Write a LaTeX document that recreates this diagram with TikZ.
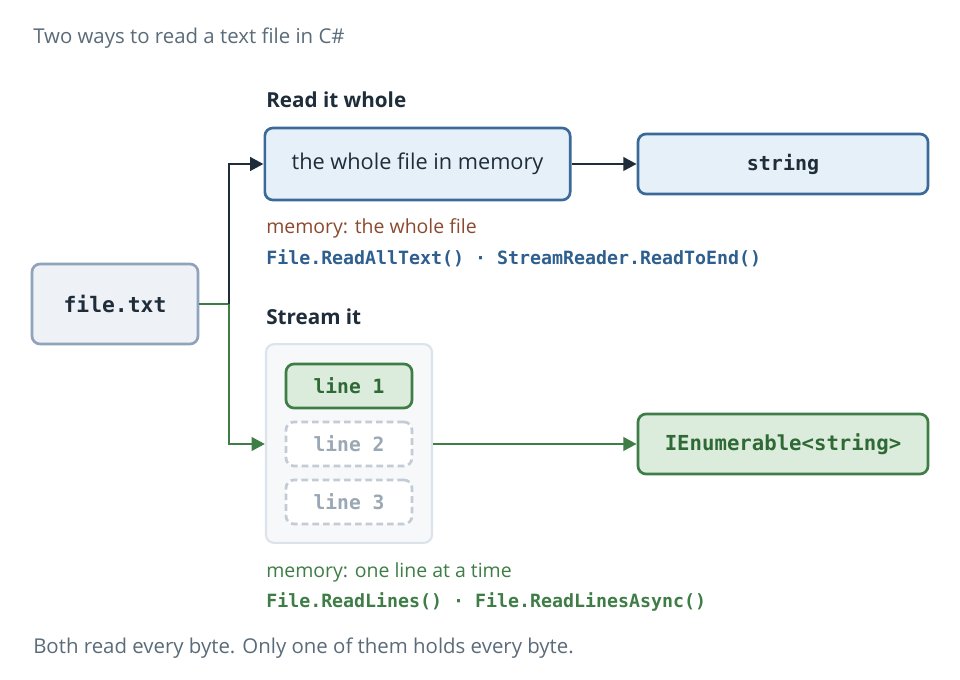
\documentclass[tikz,border=0pt]{standalone}
\usepackage{fontspec}
\setmainfont{Open Sans}
\setmonofont{DejaVu Sans Mono}
\usetikzlibrary{arrows.meta}
\definecolor{ink}{HTML}{1F2D3A}
\definecolor{blueline}{HTML}{3B6A9A}
\definecolor{bluefill}{HTML}{E6F0F8}
\definecolor{fileline}{HTML}{8FA4BB}
\definecolor{filefill}{HTML}{EEF2F6}
\definecolor{greenline}{HTML}{3E7D46}
\definecolor{greenfill}{HTML}{DCECDC}
\definecolor{greentext}{HTML}{2F6A36}
\definecolor{brown}{HTML}{8B4A2E}
\definecolor{codeblue}{HTML}{2F5F8F}
\definecolor{note}{HTML}{5A6B7A}
\definecolor{dashline}{HTML}{C3CCD6}
\definecolor{dashtext}{HTML}{9AA7B4}
\definecolor{boxline}{HTML}{DDE3EA}
\definecolor{boxfill}{HTML}{F6F8FA}
\tikzset{box/.style={rounded corners=6pt,line width=2pt,inner sep=0pt}}
\tikzset{l/.style={font=\fontsize{14.6}{14.6}\selectfont,anchor=west,inner sep=0pt}}
\tikzset{h/.style={font=\fontsize{15.5}{15.5}\selectfont\bfseries,anchor=west,inner sep=0pt,text=ink}}
\tikzset{m/.style={font=\fontsize{13.7}{13.7}\selectfont\ttfamily\bfseries,anchor=west,inner sep=0pt}}
\tikzset{c/.style={font=\fontsize{15}{15}\selectfont\ttfamily\bfseries}}
\tikzset{arr/.style={line width=2.2pt,-{Triangle[length=10pt,width=10pt]}}}

\begin{document}
\begin{tikzpicture}[x=0.75pt,y=-0.75pt]
        \useasboundingbox[fill=white] (0,0) rectangle (960,680);
        \node[l,text=note,font=\fontsize{15.3}{15.3}\selectfont] (title) at (33,38) {Two ways to read a text file in C\#};
        \node[l,text=note,font=\fontsize{15.3}{15.3}\selectfont] (foot) at (33,648) {Both read every byte. Only one of them holds every byte.};
        % file
        \node[box,draw=fileline,fill=filefill,minimum width=124.5pt,minimum height=60pt,
          c,font=\fontsize{16}{16}\selectfont\ttfamily\bfseries,text=ink] (file) at (115,304) {file.txt};
        \coordinate (fork) at (229,304);
        % read it whole
        \node[h] (whole) at (266,100) {Read it whole};
        \node[box,draw=blueline,fill=bluefill,minimum width=229pt,minimum height=54pt,
          font=\fontsize{16.3}{16.3}\selectfont,text=ink] (mem) at (417.5,164) {the whole file in memory};
        \node[box,draw=blueline,fill=bluefill,minimum width=217.5pt,minimum height=45pt,
          c,text=ink] (str) at (783,164) {string};
        \node[l,text=brown] (memw) at (266,228) {memory: the whole file};
        \node[m,text=codeblue] (codew) at (266,258) {File.ReadAllText() · StreamReader.ReadToEnd()};
        % stream it
        \node[h] (stream) at (266,317) {Stream it};
        \node[box,draw=boxline,fill=boxfill,line width=1.6pt,minimum width=124.5pt,minimum height=149pt] (lines) at (349,443.5) {};
        \node[box,draw=greenline,fill=greenfill,minimum width=94.5pt,minimum height=33pt,
          c,font=\fontsize{14.7}{14.7}\selectfont\ttfamily\bfseries,text=greentext] (l1) at (349,386) {line 1};
        \foreach \n/\y in {2/444,3/502}
          \node[box,draw=dashline,dashed,dash pattern=on 5pt off 3pt,fill=white,minimum width=94.5pt,minimum height=33pt,
            c,font=\fontsize{14.7}{14.7}\selectfont\ttfamily\bfseries,text=dashtext] (l\n) at (349,\y) {line \n};
        \node[box,draw=greenline,fill=greenfill,minimum width=217.5pt,minimum height=45pt,
          c,font=\fontsize{15.5}{15.5}\selectfont\ttfamily\bfseries,text=greentext] (enum) at (783,444) {IEnumerable<string>};
        \node[l,text=greenline] (memo) at (266,572) {memory: one line at a time};
        \node[m,text=greenline] (codeo) at (266,602) {File.ReadLines() · File.ReadLinesAsync()};
        % connectors
        \draw[arr,greenline] (file.east) -- (fork) |- (lines.west |- l2);
        \draw[arr,ink] (fork) |- (mem.west);
        \draw[arr,ink] (mem) -- (str);
        \draw[arr,greenline] (lines.east |- l2) -- (enum);
      \end{tikzpicture}
\end{document}
